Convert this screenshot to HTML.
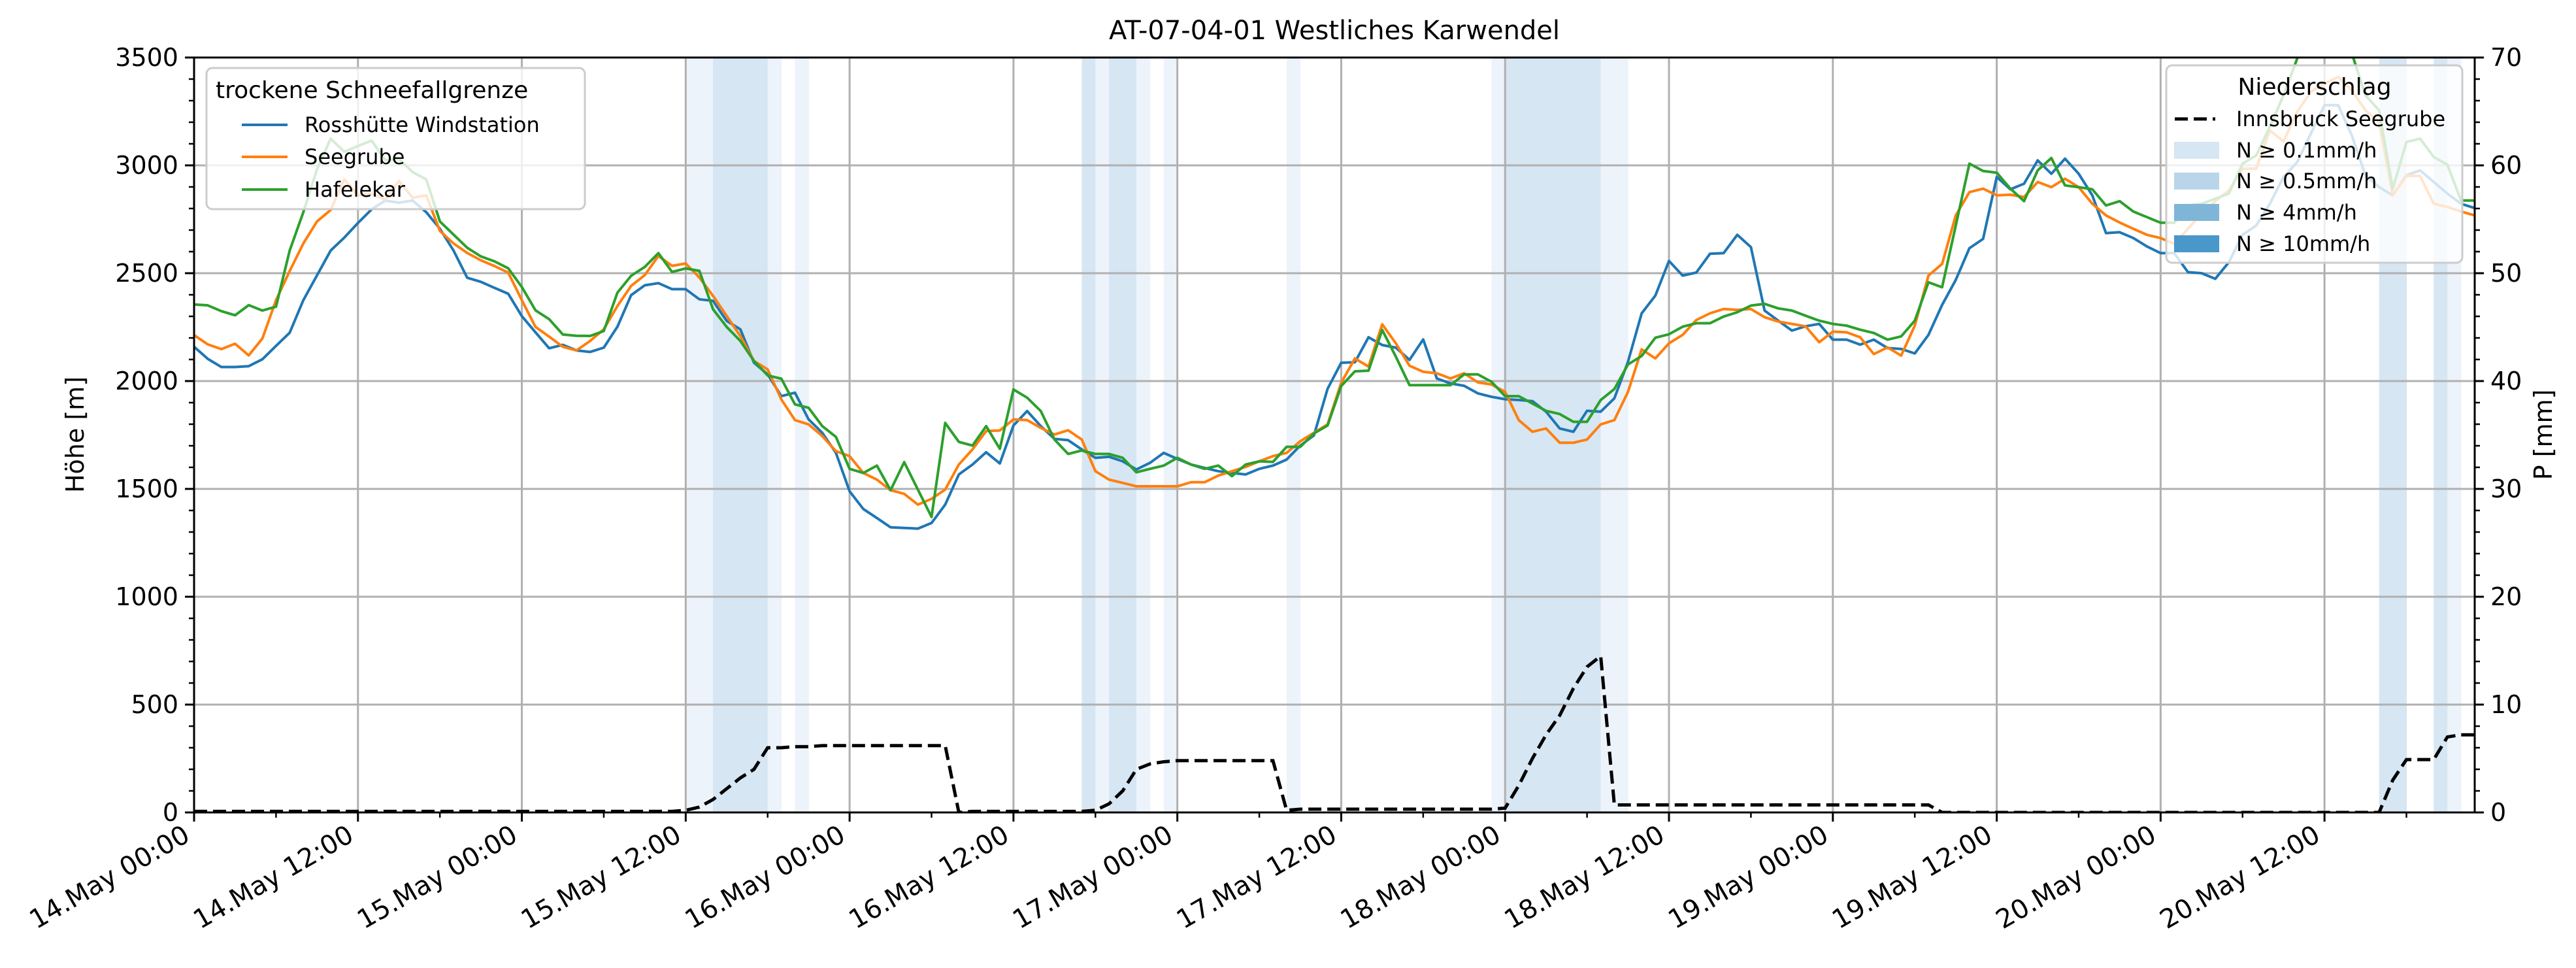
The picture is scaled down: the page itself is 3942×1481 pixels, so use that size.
<!DOCTYPE html>
<html><head><meta charset="utf-8">
<style>
html,body{margin:0;padding:0;background:#fff;}
svg{display:block;font-family:"DejaVu Sans","Liberation Sans",sans-serif;}
</style></head>
<body>
<svg id="chart" xmlns="http://www.w3.org/2000/svg" width="3942" height="1481" viewBox="0 0 3942 1481">
<rect width="3942" height="1481" fill="#fff"/>
<defs><clipPath id="plotclip"><rect x="297" y="88" width="3490" height="1155"/></clipPath></defs>
<g id="bands" clip-path="url(#plotclip)"></g>
<g id="grid"></g>
<g id="series" clip-path="url(#plotclip)"></g>
<g id="axes"></g>
<text x="2042" y="60" font-size="40" text-anchor="middle">AT-07-04-01 Westliches Karwendel</text>
<text transform="translate(128,665) rotate(-90)" font-size="38" text-anchor="middle">Höhe [m]</text>
<text transform="translate(3905,665) rotate(-90)" font-size="38" text-anchor="middle">P [mm]</text>
<g>
<rect x="316" y="104" width="579" height="216" rx="9" fill="#fff" fill-opacity="0.8" stroke="#ccc" stroke-width="3"/>
<text x="330" y="150" font-size="36">trockene Schneefallgrenze</text>
<line x1="370" y1="191" x2="440" y2="191" stroke="#1f77b4" stroke-width="4"/>
<text x="466" y="202" font-size="32">Rosshütte Windstation</text>
<line x1="370" y1="240" x2="440" y2="240" stroke="#ff7f0e" stroke-width="4"/>
<text x="466" y="251" font-size="32">Seegrube</text>
<line x1="370" y1="290" x2="440" y2="290" stroke="#2ca02c" stroke-width="4"/>
<text x="466" y="301" font-size="32">Hafelekar</text>
</g>
<g>
<rect x="3315" y="100" width="453" height="302" rx="9" fill="#fff" fill-opacity="0.8" stroke="#ccc" stroke-width="3"/>
<text x="3542" y="145" font-size="36" text-anchor="middle">Niederschlag</text>
<line x1="3328" y1="182" x2="3390" y2="182" stroke="#000" stroke-width="5" stroke-dasharray="20 9"/>
<text x="3422" y="193" font-size="32">Innsbruck Seegrube</text>
<rect x="3327" y="217" width="69" height="26" fill="#d6e6f3"/>
<text x="3422" y="241" font-size="32">N ≥ 0.1mm/h</text>
<rect x="3327" y="264" width="69" height="26" fill="#b9d5ea"/>
<text x="3422" y="288" font-size="32">N ≥ 0.5mm/h</text>
<rect x="3327" y="312" width="69" height="26" fill="#7fb6d8"/>
<text x="3422" y="336" font-size="32">N ≥ 4mm/h</text>
<rect x="3327" y="360" width="69" height="26" fill="#4a97c9"/>
<text x="3422" y="384" font-size="32">N ≥ 10mm/h</text>
</g>
</svg>
<script>
const rosshuette = [2159,2103,2065,2065,2069,2101,2163,2224,2375,2490,2605,2665,2733,2796,2837,2827,2837,2783,2706,2605,2479,2460,2432,2405,2301,2226,2152,2168,2142,
2135,2155,2252,2398,2444,2454,2426,2426,2379,2372,2279,2240,2085,2031,1930,1946,1822,1760,1667,1489,1407,1365,1322,1319,1316,1342,1427,1567,
1613,1670,1618,1794,1861,1791,1732,1726,1683,1644,1649,1628,1590,1621,1667,1639,1613,1597,1582,1574,1567,1593,1608,1636,1701,1748,1964,2085,2087,
2203,2167,2155,2098,2193,2012,1989,1978,1943,1927,1916,1912,1907,1858,1780,1765,1862,1858,1920,2090,2314,2396,2557,2489,2503,2590,2593,2678,
2621,2327,2280,2234,2254,2265,2192,2192,2169,2192,2153,2149,2128,2214,2353,2469,2616,2659,2946,2889,2915,3023,2961,3031,2961,2861,2686,2690,
2663,2624,2593,2593,2505,2500,2474,2551,2678,2721,2822,2946,3015,3147,3279,3279,3139,2954,2899,2861,2954,2977,2923,2869,2822,2802];
const seegrube = [2213,2170,2148,2173,2119,2197,2375,2510,2638,2740,2793,2935,2861,2868,2841,2928,2850,2861,2696,2638,2594,2560,2533,2503,2375,2251,2206,2159,2142,
2186,2240,2348,2441,2491,2580,2534,2545,2480,2395,2302,2209,2093,2054,1915,1819,1799,1745,1675,1652,1574,1543,1494,1477,1427,1454,1497,1613,
1683,1768,1771,1822,1819,1783,1752,1772,1729,1582,1543,1528,1512,1512,1512,1512,1531,1531,1562,1582,1602,1628,1652,1667,1721,1760,1799,1992,2105,
2067,2263,2175,2071,2043,2036,2012,2036,1994,1984,1950,1819,1765,1780,1714,1714,1729,1799,1819,1950,2147,2105,2175,2214,2283,2314,2334,2330,
2334,2296,2276,2265,2254,2180,2229,2226,2203,2125,2156,2118,2257,2489,2543,2768,2876,2892,2861,2864,2853,2923,2899,2938,2899,2822,2768,2735,
2706,2678,2663,2636,2706,2776,2833,2884,2985,2985,3162,3111,3248,3341,3379,3410,3348,3255,3201,2861,2951,2951,2822,2807,2786,2768];
const hafelekar = [2355,2351,2324,2305,2352,2327,2345,2605,2783,2982,3124,3063,3090,3115,3023,3030,2969,2935,2740,2679,2618,2578,2555,2523,2436,2328,2287,2216,2210,
2209,2232,2410,2488,2529,2593,2506,2522,2511,2333,2251,2186,2093,2026,2011,1892,1876,1791,1741,1593,1574,1608,1494,1624,1497,1370,1806,1718,
1701,1791,1686,1961,1923,1861,1729,1662,1678,1662,1662,1644,1577,1593,1608,1644,1613,1593,1608,1559,1613,1628,1625,1695,1695,1757,1794,1977,2045,
2048,2237,2113,1981,1981,1981,1981,2031,2031,1997,1930,1930,1896,1862,1847,1811,1811,1912,1963,2077,2116,2201,2217,2252,2268,2268,2299,2319,
2350,2358,2337,2327,2303,2280,2265,2257,2238,2223,2192,2207,2280,2458,2435,2721,3008,2974,2966,2892,2834,2977,3034,2907,2899,2889,2814,2834,
2786,2760,2734,2734,2814,2822,2845,2869,3008,3046,3178,3325,3495,3620,3600,3580,3520,3325,3255,2892,3108,3124,3039,3003,2837,2837];
const precipSum = [];
for (let i = 0; i < 36; i++) precipSum.push(0.1);
const precipA = [0.2,0.5,1.2,2.2,3.2,4.0,6.0,6.0,6.1,6.1,6.2,6.2,6.2,6.2,6.2,6.2,6.2,6.2,6.2,6.2,0.0,0.1,0.1,0.1,0.1,0.1,0.1,0.1,0.1,0.1,
0.2,0.8,2.0,4.0,4.5,4.7,4.8,4.8,4.8,4.8,4.8,4.8,4.8,4.8,0.2,0.3,0.3,0.3,0.3,0.3,0.3,0.3,0.3,0.3,0.3,0.3,0.3,0.3,0.3,0.3,
0.4,2.5,5.0,7.2,9.0,11.5,13.5,14.5,0.7,0.7,0.7,0.7,0.7,0.7,0.7,0.7,0.7,0.7,0.7,0.7,0.7,0.7,0.7,0.7,0.7,0.7,0.7,0.7,0.7,0.7,0.7,0.7];
precipSum.push(...precipA);
while (precipSum.length < 161) precipSum.push(0.0);
precipSum.push(3.0,4.9,4.9,4.9,7.0,7.2,7.2);
const bandHours = [36,37,38,39,40,41,42,44,65,66,67,68,69,71,80,95,96,97,98,99,100,101,102,103,104,160,161,164,165];
const bandLevels = [1,1,2,2,2,2,1,1,2,1,2,2,1,1,1,1,2,2,2,2,2,2,2,1,1,2,2,2,1];
const xTickLabels = ["14.May 00:00","14.May 12:00","15.May 00:00","15.May 12:00","16.May 00:00","16.May 12:00","17.May 00:00","17.May 12:00","18.May 00:00","18.May 12:00","19.May 00:00","19.May 12:00","20.May 00:00","20.May 12:00"];
const yTicks = [0,500,1000,1500,2000,2500,3000,3500];
const y2Ticks = [0,10,20,30,40,50,60,70];

const NS = "http://www.w3.org/2000/svg";
const L = 297, R = 3787, T = 88, B = 1243, HMAX = 167;
const xs = h => L + (R - L) * h / HMAX;
const ys = v => B - (B - T) * v / 3500;
const ys2 = v => B - (B - T) * v / 70;
function mk(tag, attrs, parent) {
  const e = document.createElementNS(NS, tag);
  for (const k in attrs) e.setAttribute(k, attrs[k]);
  parent.appendChild(e);
  return e;
}
const gB = document.getElementById('bands'), gG = document.getElementById('grid'),
      gS = document.getElementById('series'), gA = document.getElementById('axes');
bandHours.forEach((h, i) => {
  const r = mk('rect', {x: xs(h), y: T, width: xs(h + 1) - xs(h) + 0.5, height: B - T, fill: bandLevels[i] === 2 ? '#d6e6f3' : '#edf3fa'}, gB);
  
  
});
xTickLabels.forEach((lab, i) => {
  const x = xs(i * 12);
  const gl = mk('line', {x1: x, y1: T, x2: x, y2: B, stroke: '#b0b0b0', 'stroke-width': 3}, gG);
  
  
  mk('line', {x1: x, y1: B, x2: x, y2: B + 14, stroke: '#000', 'stroke-width': 3}, gA);
  const t = mk('text', {'font-size': 40, 'text-anchor': 'end', transform: `translate(${x - 4},${B + 42}) rotate(-30)`}, gA);
  t.textContent = lab;
  
  
});
for (let h = 6; h <= HMAX; h += 12) mk('line', {x1: xs(h), y1: B, x2: xs(h), y2: B + 8, stroke: '#000', 'stroke-width': 2.5}, gA);
yTicks.forEach(v => {
  const y = ys(v);
  if (v > 0 && v < 3500) {
    const gl = mk('line', {x1: L, y1: y, x2: R, y2: y, stroke: '#b0b0b0', 'stroke-width': 3}, gG);
    
    
  }
  mk('line', {x1: L - 14, y1: y, x2: L, y2: y, stroke: '#000', 'stroke-width': 3}, gA);
  const t = mk('text', {x: L - 24, y: y + 13, 'font-size': 38, 'text-anchor': 'end'}, gA);
  t.textContent = v;
  
  
});
for (let v = 100; v < 3500; v += 100) if (v % 500) mk('line', {x1: L - 8, y1: ys(v), x2: L, y2: ys(v), stroke: '#000', 'stroke-width': 2.5}, gA);
y2Ticks.forEach(v => {
  const y = ys2(v);
  mk('line', {x1: R, y1: y, x2: R + 14, y2: y, stroke: '#000', 'stroke-width': 3}, gA);
  const t = mk('text', {x: R + 24, y: y + 13, 'font-size': 38}, gA);
  t.textContent = v;
  
  
});
for (let v = 2; v < 70; v += 2) if (v % 10) mk('line', {x1: R, y1: ys2(v), x2: R + 8, y2: ys2(v), stroke: '#000', 'stroke-width': 2.5}, gA);
mk('rect', {x: L, y: T, width: R - L, height: B - T, fill: 'none', stroke: '#000', 'stroke-width': 3}, gA);
function line(arr, color, name) {
  const p = mk('polyline', {points: arr.map((v, i) => xs(i) + ',' + ys(v)).join(' '), fill: 'none', stroke: color, 'stroke-width': 4, 'stroke-linejoin': 'round'}, gS);
  
  
}
line(rosshuette, '#1f77b4', 'line-rosshuette');
line(seegrube, '#ff7f0e', 'line-seegrube');
line(hafelekar, '#2ca02c', 'line-hafelekar');
const pl = mk('polyline', {points: precipSum.map((v, i) => xs(i) + ',' + ys2(v)).join(' '), fill: 'none', stroke: '#000', 'stroke-width': 5, 'stroke-dasharray': '20 9'}, gS);


</script>
</body></html>
